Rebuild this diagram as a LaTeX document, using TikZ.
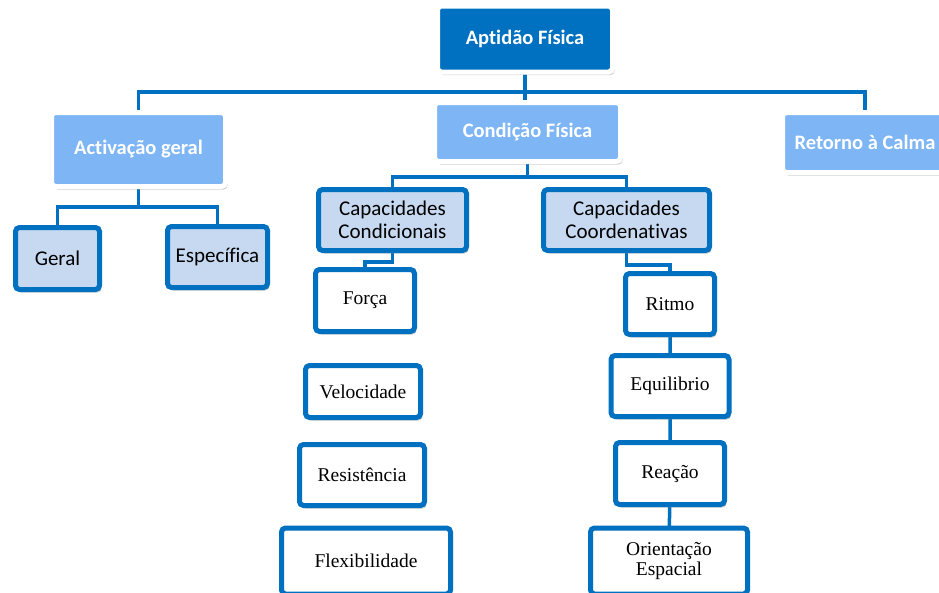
\documentclass[tikz,border=0pt]{standalone}
\usepackage{fontspec}
\setmainfont{Liberation Serif}
\newfontfamily\calibri[Ligatures=NoCommon]{Carlito}
\usetikzlibrary{shadows,backgrounds}
\definecolor{deepblue}{RGB}{0,112,192}
\definecolor{midblue}{RGB}{126,182,245}
\definecolor{paleblue}{RGB}{198,217,241}

\begin{document}
\begin{tikzpicture}[
			x=1pt, y=-1pt
			,every node/.append style={rounded corners=4pt, line width=5pt, inner sep=2pt}
			,wh/.style 2 args={minimum width=#1pt, minimum height=#2pt}
			,shade/.style={drop shadow={shadow xshift=2pt, shadow yshift=-3pt, opacity=.4}}
			,head/.style={draw=white, fill=#1, text=white, shade, font=\calibri\bfseries\fontsize{20.5}{24}\selectfont}
			,group/.style={draw=deepblue, fill=paleblue, shade, align=center, font=\calibri\fontsize{21}{23}\selectfont}
			,item/.style={draw=deepblue, fill=white, shade, align=center, font=\fontsize{19.5}{22}\selectfont}
			,link/.style={draw=deepblue, line width=3.5pt}
			,faint/.style={draw=white, line width=2pt}
		]
			\useasboundingbox (0,0) rectangle (939,592);

			\node [head=deepblue, wh={175}{66}] (apt) at (525,39) {Aptidão Física};
			\node [head=midblue, wh={174}{74}] (act) at (138.5,149.5) {Activação geral};
			\node [head=midblue, wh={186}{59}] (cond) at (527.5,132) {Condição Física};
			\node [head=midblue, wh={165}{60}] (ret) at (865,142.5) {Retorno à Calma};

			\node [group, wh={84}{62}] (geral) at (57.5,258.5) {Geral};
			\node [group, wh={100}{61}] (espec) at (217.5,257) {Específica};
			\node [group, wh={148}{61}] (ccond) at (392.5,220) {Capacidades\\Condicionais};
			\node [group, wh={166}{61}] (ccoord) at (626.5,220) {Capacidades\\Coordenativas};

			\node [item, wh={99}{62}] (forca) at (365,300.5) {Força};
			\node [item, wh={115}{52}] (veloc) at (363,391.5) {Velocidade};
			\node [item, wh={125}{61}] (resist) at (362,475) {Resistência};
			\node [item, wh={169}{66}] (flex) at (366,561) {Flexibilidade};

			\node [item, wh={89}{61}] (ritmo) at (670,304) {Ritmo};
			\node [item, wh={118}{61}] (equil) at (670,386) {Equilibrio};
			\node [item, wh={109}{62}] (reacao) at (670,473.5) {Reação};
			\node [item, wh={157}{66}, font=\fontsize{19.5}{20}\selectfont] (orient) at (669,561) {Orientação\\Espacial};

			\begin{scope}[on background layer]
				\coordinate (busA) at (525,92);
				\coordinate (busB) at (527.5,177);
				\coordinate (busC) at (138.5,207);
				\coordinate (busD) at (392.5,262);
				\coordinate (busE) at (626.5,265);
				% main branches
				\draw [link] (act.center) |- (busA) -| (ret.center);
				\draw [link] (apt.center) -- (apt.center |- cond.center);
				\draw [link] (act.center) -- (busC);
				\draw [link] (geral.center) |- (busC) -| (espec.center);
				\draw [link] (cond.center) -- (busB);
				\draw [link] (ccond.center) |- (busB) -| (ccoord.center);
				% columns
				\draw [link] (ccond.center) -- (busD) -| (forca.center);
				\draw [link] (ccoord.center) -- (busE) -| (ritmo.center);
				\draw [link] (ritmo.center) -- (equil.center) -- (reacao.center) -- (orient.center);
				\draw [faint] (forca.center) -- (veloc.center) -- (resist.center) -- (flex.center);
			\end{scope}
		\end{tikzpicture}
\end{document}
